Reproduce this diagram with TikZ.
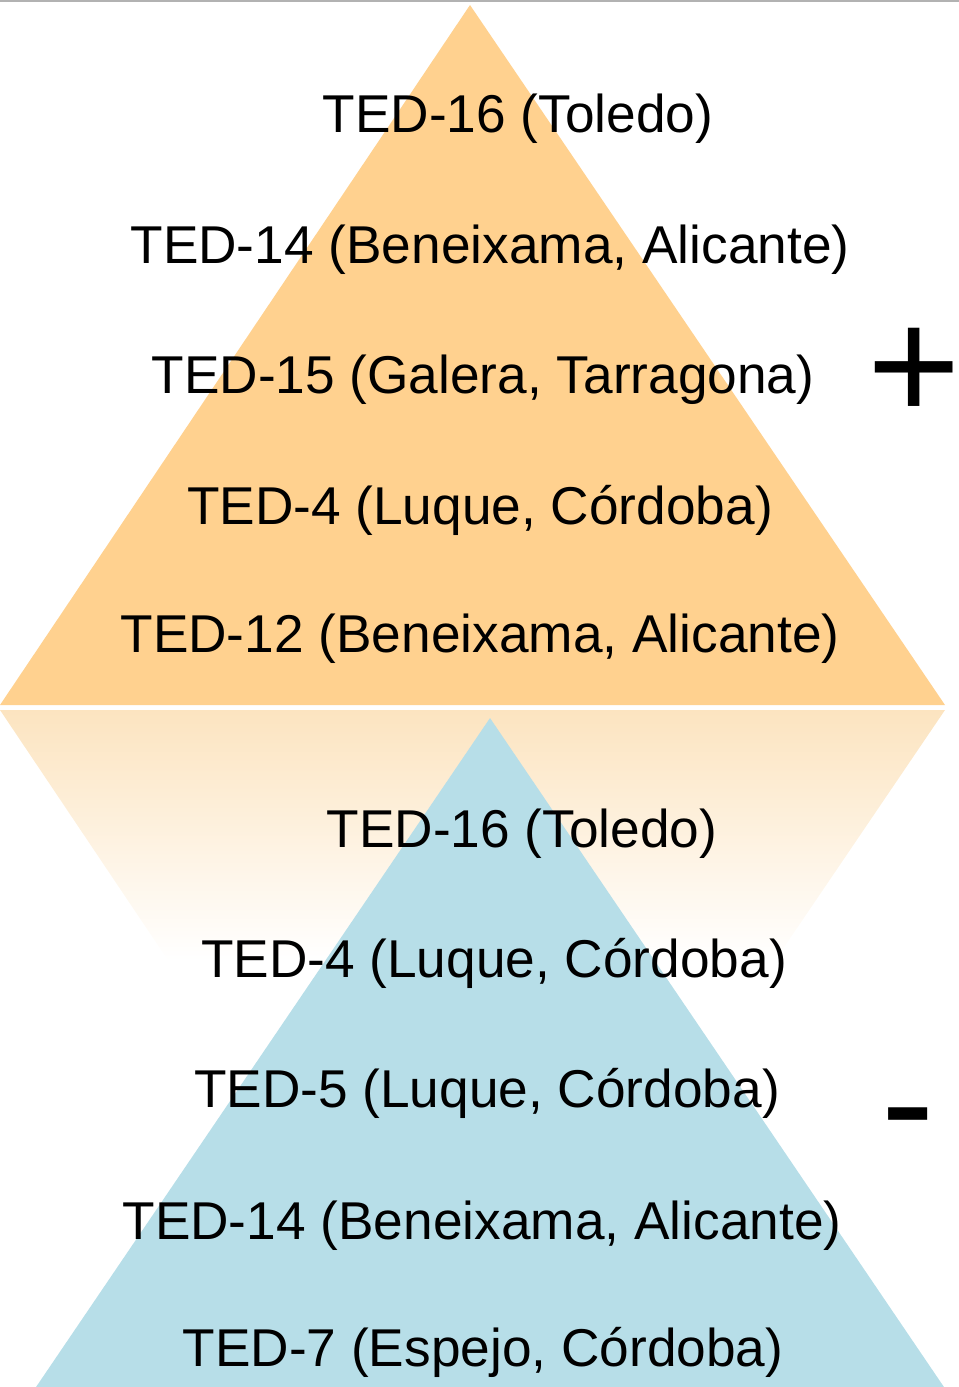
\documentclass[tikz,border=0pt]{standalone}
\usepackage{fontspec}
\setmainfont{Liberation Sans}
\usepackage{tikz}
\usetikzlibrary{positioning}
\definecolor{pyrOrange}{RGB}{255,209,143}
\definecolor{pyrFade}{RGB}{252,228,192}
\definecolor{pyrBlue}{RGB}{183,222,232}

\begin{document}
\begin{tikzpicture}[
    x=0.02cm, y=-0.02cm,
    lbl/.style={anchor=base, inner sep=0pt, font=\fontsize{30.3}{36}\selectfont},
    sign/.style={anchor=base, inner sep=0pt, font=\fontsize{91}{100}\selectfont}
  ]
    \useasboundingbox (0,0) rectangle (959,1387);
    \clip (0,0) rectangle (959,1387);
    \draw[black!30, line width=2pt] (0,0) -- (959,0);

    % upper pyramid
    \fill[pyrOrange] (470,5) -- (945,705) -- (0,705) -- cycle;
    % reflection
    \begin{scope}
      \clip (0,710) -- (945,710) -- (470,1410) -- cycle;
      \shade[top color=pyrFade, bottom color=white] (0,710) rectangle (959,960);
    \end{scope}
    % lower pyramid
    \fill[pyrBlue] (490,718) -- (965,1418) -- (15,1418) -- cycle;

    \node[lbl] (t1) at (518,132) {TED-16 (Toledo)};
    \node[lbl] (t2) at (490,263) {TED-14 (Beneixama, Alicante)};
    \node[lbl] (t3) at (483,393) {TED-15 (Galera, Tarragona)};
    \node[lbl] (t4) at (480,524) {TED-4 (Luque, Córdoba)};
    \node[lbl] (t5) at (480,652) {TED-12 (Beneixama, Alicante)};

    \node[lbl] (b1) at (522,847) {TED-16 (Toledo)};
    \node[lbl] (b2) at (494,977) {TED-4 (Luque, Córdoba)};
    \node[lbl] (b3) at (487,1107) {TED-5 (Luque, Córdoba)};
    \node[lbl] (b4) at (482,1239) {TED-14 (Beneixama, Alicante)};
    \node[lbl] (b5) at (483,1366) {TED-7 (Espejo, Córdoba)};

    \node[sign] (plus) at (914,420) {+};
    \node[sign] (minus) at (908,1156) {-};
  \end{tikzpicture}
\end{document}
